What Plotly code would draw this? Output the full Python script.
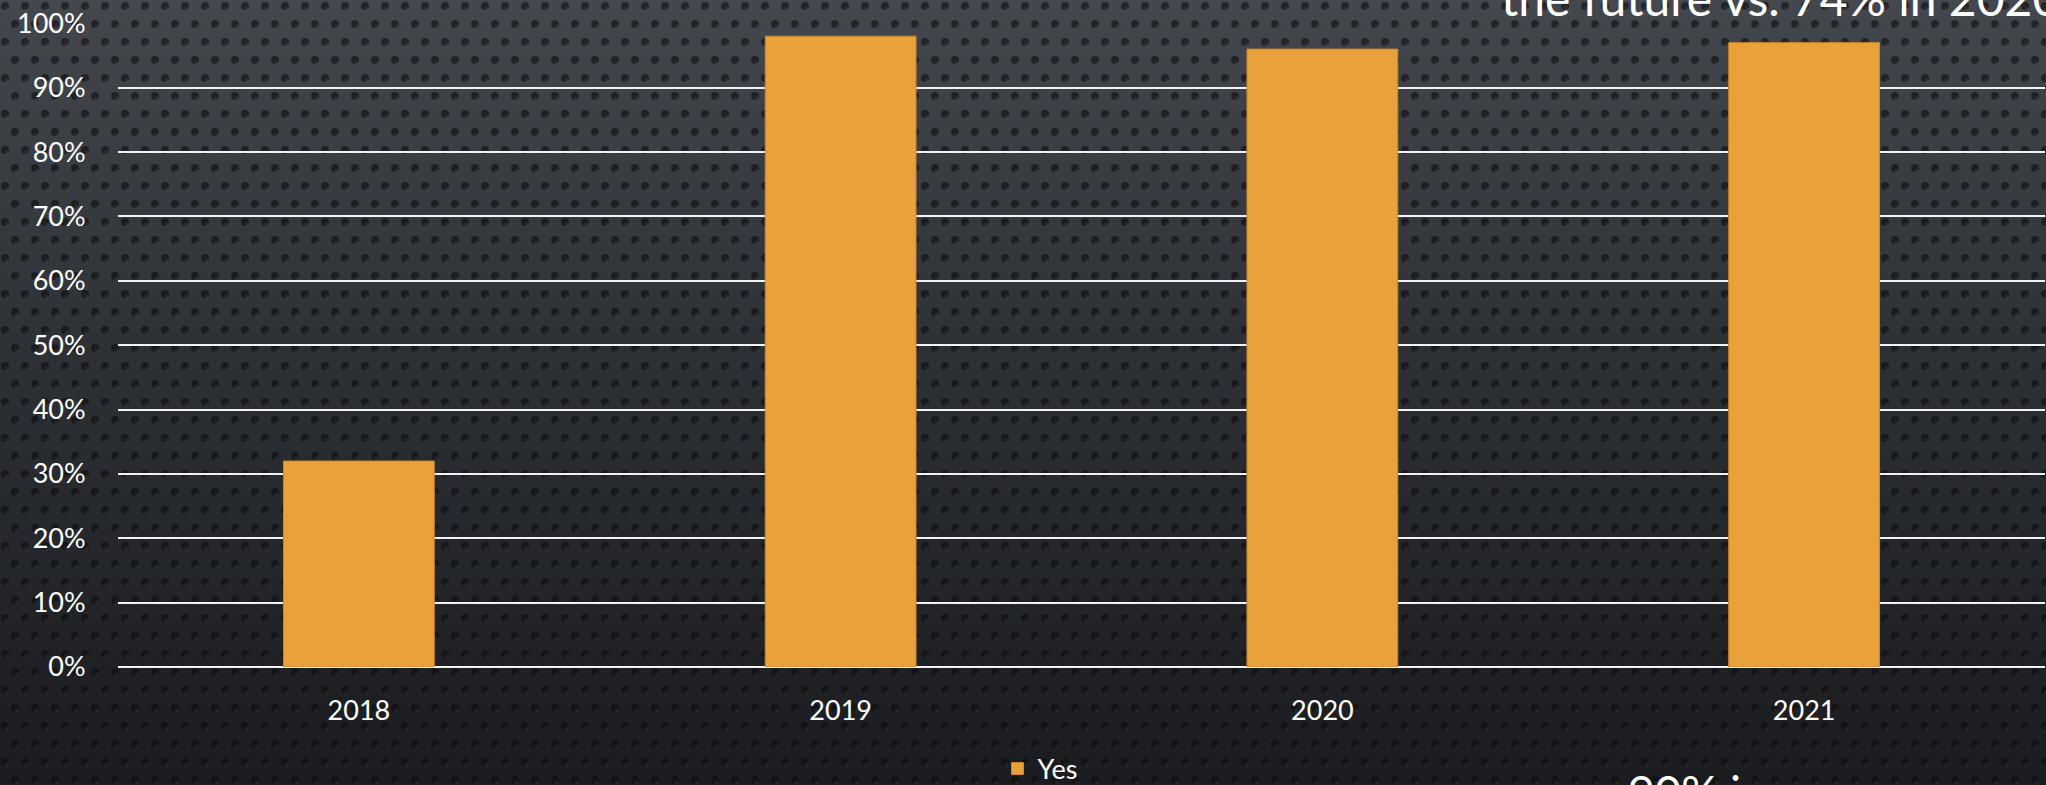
import plotly.graph_objects as go

# data
years = ["2018", "2019", "2020", "2021"]
yes_share = [0.32, 0.98, 0.96, 0.97]
y_ticks = [i / 10 for i in range(11)]
y_tick_labels = [f"{i * 10}%" for i in range(11)]

W, H = 2046, 785
L, R, T, B = 118, 1, 23, 118
pw, ph = W - L - R, H - T - B


def px_x(px):
    return (px - L) / pw


def px_y(py):
    return (H - B - py) / ph


# dark perforated-metal look behind the chart
bg_svg = (
    f"<svg xmlns='http://www.w3.org/2000/svg' width='{W}' height='{H}'>"
    "<defs>"
    "<linearGradient id='g' x1='0' y1='0' x2='0' y2='1'>"
    "<stop offset='0' stop-color='#44484e'/>"
    "<stop offset='0.45' stop-color='#2d3035'/>"
    "<stop offset='1' stop-color='#1a1c1f'/>"
    "</linearGradient>"
    "<pattern id='p' width='20' height='36' patternUnits='userSpaceOnUse'>"
    "<circle cx='5' cy='6' r='4' fill='#0b0c0e' fill-opacity='0.6'/>"
    "<circle cx='15' cy='24' r='4' fill='#0b0c0e' fill-opacity='0.6'/>"
    "<circle cx='6.5' cy='8.5' r='2' fill='#70747a' fill-opacity='0.15'/>"
    "<circle cx='16.5' cy='26.5' r='2' fill='#70747a' fill-opacity='0.15'/>"
    "</pattern>"
    "</defs>"
    f"<rect width='{W}' height='{H}' fill='url(#g)'/>"
    f"<rect width='{W}' height='{H}' fill='url(#p)'/>"
    "</svg>"
)
bg_src = "data:image/svg+xml;charset=utf-8," + bg_svg.replace("#", "%23").replace("<", "%3C").replace(">", "%3E")

fig = go.Figure(
    go.Bar(x=years, y=yes_share, name="Yes",
           marker=dict(color="#e9a23b", line=dict(color="#c9862c", width=1)))
)

fig.update_layout(
    width=W, height=H,
    margin=dict(l=L, r=R, t=T, b=B, autoexpand=False),
    paper_bgcolor="#1c1e21",
    plot_bgcolor="rgba(0,0,0,0)",
    font=dict(family="Lato, 'Open Sans', sans-serif", color="white", size=27),
    bargap=0.687,
    showlegend=True,
    legend=dict(orientation="h", xref="container", yref="container",
                x=1040 / W, xanchor="center", y=1 - 769 / H, yanchor="middle",
                font=dict(size=27, color="white"), bgcolor="rgba(0,0,0,0)"),
    images=[dict(source=bg_src, xref="paper", yref="paper",
                 x=px_x(0), y=px_y(0), sizex=W / pw, sizey=H / ph,
                 sizing="stretch", xanchor="left", yanchor="top", layer="below")],
    annotations=[
        dict(text="the future vs. 74% in 2020", xref="paper", yref="paper",
             x=px_x(2062), y=px_y(28), xanchor="right", yanchor="bottom",
             showarrow=False, font=dict(size=48, color="white")),
        dict(text="90% in", xref="paper", yref="paper",
             x=px_x(1626), y=px_y(762), xanchor="left", yanchor="top",
             showarrow=False, font=dict(size=46, color="white")),
    ],
)

fig.update_xaxes(showgrid=False, showline=False, zeroline=False,
                 ticks="outside", ticklen=20, tickcolor="rgba(0,0,0,0)",
                 tickfont=dict(size=27, color="white"))
fig.update_yaxes(range=[0, 1.0005], tickvals=y_ticks, ticktext=y_tick_labels,
                 showgrid=True, gridcolor="#f2f2f2", gridwidth=2,
                 zeroline=True, zerolinecolor="#f2f2f2", zerolinewidth=2,
                 showline=False, ticks="outside", ticklen=26,
                 tickcolor="rgba(0,0,0,0)", tickfont=dict(size=27, color="white"))

# drop the default body margin so the chart sits in the window corner
pin = (
    "document.documentElement.style.background='#1a1c1f';"
    "document.body.style.margin='0';"
)
fig.write_html("out.html", config={"displayModeBar": False}, post_script=pin)
